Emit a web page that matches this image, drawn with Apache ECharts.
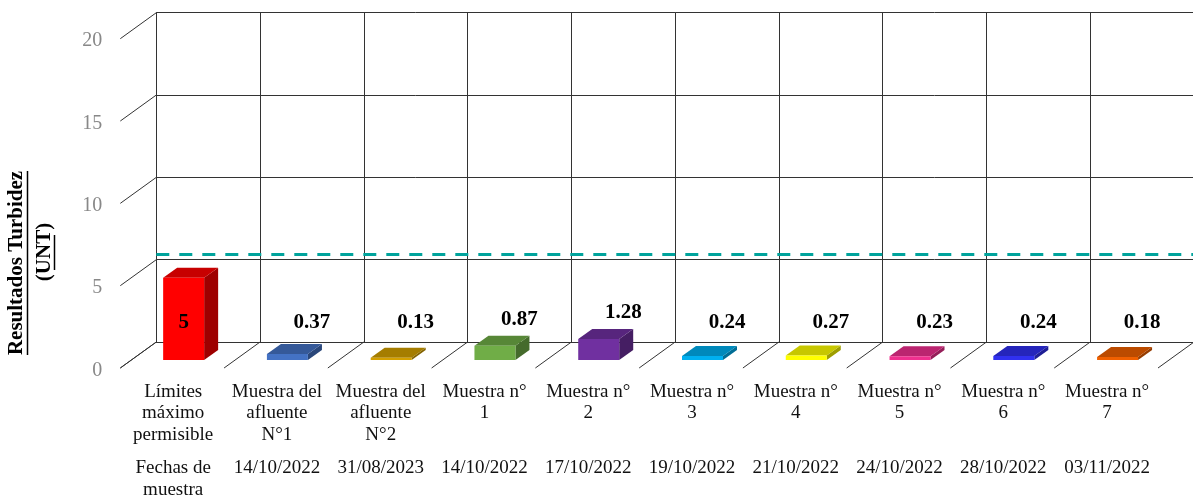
<!DOCTYPE html>
<html>
<head>
<meta charset="utf-8">
<script src="https://cdn.jsdelivr.net/npm/echarts@6/dist/echarts.min.js"></script>
<style>
  html, body { margin: 0; padding: 0; background: #fff; }
  #chart { width: 1193px; height: 496px; }
</style>
</head>
<body>
<div id="chart"></div>
<script>
// datos
var categorias = ['Límites\nmáximo\npermisible', 'Muestra del\nafluente\nN°1', 'Muestra del\nafluente\nN°2',
    'Muestra n°\n1', 'Muestra n°\n2', 'Muestra n°\n3', 'Muestra n°\n4', 'Muestra n°\n5', 'Muestra n°\n6', 'Muestra n°\n7'];
var fechas = ['Fechas de\nmuestra', '14/10/2022', '31/08/2023', '14/10/2022', '17/10/2022',
    '19/10/2022', '21/10/2022', '24/10/2022', '28/10/2022', '03/11/2022'];
var turbidez = [5, 0.37, 0.13, 0.87, 1.28, 0.24, 0.27, 0.23, 0.24, 0.18];
var yTicks = [0, 5, 10, 15, 20];
var limite = 5.3; // linea punteada

var colores = ['#ff0000', '#4472c4', '#d4a000', '#70ad47', '#7030a0', '#00b0f0', '#ffff00', '#f0308f', '#3030f0', '#f06000'];

var serif = "'Liberation Serif', 'Times New Roman', serif";

function shade(hex, f) {
    var n = parseInt(hex.slice(1), 16);
    var r = Math.round(((n >> 16) & 255) * f), g = Math.round(((n >> 8) & 255) * f), b = Math.round((n & 255) * f);
    return 'rgb(' + r + ',' + g + ',' + b + ')';
}

var DX = 14, DY = 10;       // profundidad de la barra
var FX = 36, FY = 26;       // profundidad del piso

function renderBar(params, api) {
    var i = api.value(0), v = api.value(1);
    var base = api.coord([i, 0]);
    var top = api.coord([i, v]);
    var bw = api.size([1, 0])[0];
    var h = base[1] - top[1];
    var fx = base[0] - bw * 0.434, fw = bw * 0.395, fy = base[1] + 18;
    var c = colores[i];
    var lx = base[0], ly = base[1] - 19;
    if (h < 30) ly = Math.min(ly, base[1] - 8 - h);
    else lx = fx + fw / 2;
    return {
        type: 'group',
        children: [
            { type: 'polygon', shape: { points: [[fx + fw, fy], [fx + fw, fy - h], [fx + fw + DX, fy - h - DY], [fx + fw + DX, fy - DY]] },
              style: { fill: shade(c, 0.62) } },
            { type: 'polygon', shape: { points: [[fx, fy - h], [fx + fw, fy - h], [fx + fw + DX, fy - h - DY], [fx + DX, fy - h - DY]] },
              style: { fill: shade(c, 0.78) } },
            { type: 'rect', shape: { x: fx, y: fy - h, width: fw, height: h }, style: { fill: c } },
            { type: 'text', x: lx, y: ly, z2: 10,
              style: { text: String(v), font: 'bold 21px ' + serif, fill: '#000', align: 'center', verticalAlign: 'middle' } }
        ]
    };
}

function renderFloor(params, api) {
    var first = api.coord([0, 0]);
    var bw = api.size([1, 0])[0];
    var x0 = first[0] - bw / 2;
    var children = [];
    for (var k = 0; k <= categorias.length; k++) {
        var x = x0 + k * bw;
        children.push({ type: 'line', shape: { x1: x, y1: first[1], x2: x - FX, y2: first[1] + FY },
            style: { stroke: '#333', lineWidth: 1 } });
    }
    yTicks.forEach(function (t) {
        var y = api.coord([0, t])[1];
        children.push({ type: 'line', shape: { x1: x0, y1: y, x2: x0 - FX, y2: y + FY },
            style: { stroke: '#333', lineWidth: 1 } });
    });
    return { type: 'group', children: children };
}

var chart = echarts.init(document.getElementById('chart'));
chart.setOption({
    animation: false,
    grid: { left: 156.3, top: 12.7, width: 1037.7, height: 329.3, containLabel: false, outerBoundsMode: 'none' },
    xAxis: [{
        type: 'category',
        data: categorias,
        position: 'bottom',
        axisLine: { show: true, lineStyle: { color: '#333', width: 1 } },
        axisTick: { show: false },
        splitLine: { show: true, interval: 0, lineStyle: { color: '#333', width: 1 } },
        axisLabel: { interval: 0, margin: 39, verticalAlign: 'top', lineHeight: 21.5, padding: [0, 70, 0, 0],
            color: '#111', fontSize: 19, fontFamily: serif }
    }, {
        type: 'category',
        data: fechas,
        position: 'bottom',
        axisLine: { show: false },
        axisTick: { show: false },
        splitLine: { show: false },
        axisLabel: { interval: 0, margin: 115, verticalAlign: 'top', lineHeight: 22, padding: [0, 70, 0, 0],
            color: '#111', fontSize: 19, fontFamily: serif }
    }],
    yAxis: {
        type: 'value',
        min: 0, max: 20, interval: 5,
        axisLine: { show: true, lineStyle: { color: '#333', width: 1 } },
        axisTick: { show: false },
        splitLine: { show: true, lineStyle: { color: '#333', width: 1 } },
        axisLabel: { margin: 54, verticalAlign: 'top', lineHeight: 57, color: '#888', fontSize: 20, fontFamily: serif }
    },
    graphic: [
        { type: 'text', x: 17, y: 263, rotation: Math.PI / 2,
          style: { text: 'Resultados Turbidez', font: 'bold 21px ' + serif, fill: '#000', align: 'center', verticalAlign: 'middle' } },
        { type: 'line', shape: { x1: 27.5, y1: 171, x2: 27.5, y2: 355 }, style: { stroke: '#000', lineWidth: 1.5 } },
        { type: 'text', x: 45, y: 252, rotation: Math.PI / 2,
          style: { text: '(UNT)', font: 'bold 21px ' + serif, fill: '#000', align: 'center', verticalAlign: 'middle' } },
        { type: 'line', shape: { x1: 54.5, y1: 235, x2: 54.5, y2: 270 }, style: { stroke: '#000', lineWidth: 1.5 } }
    ],
    series: [{
        type: 'custom',
        renderItem: renderFloor,
        data: [[0, 0]],
        silent: true,
        z: 1
    }, {
        type: 'custom',
        renderItem: renderBar,
        data: turbidez.map(function (v, i) { return [i, v]; }),
        z: 3,
        markLine: {
            silent: true,
            symbol: 'none',
            label: { show: false },
            lineStyle: { color: '#00a39c', width: 3, type: [13, 10] },
            data: [{ yAxis: limite }]
        }
    }]
});
</script>
</body>
</html>
